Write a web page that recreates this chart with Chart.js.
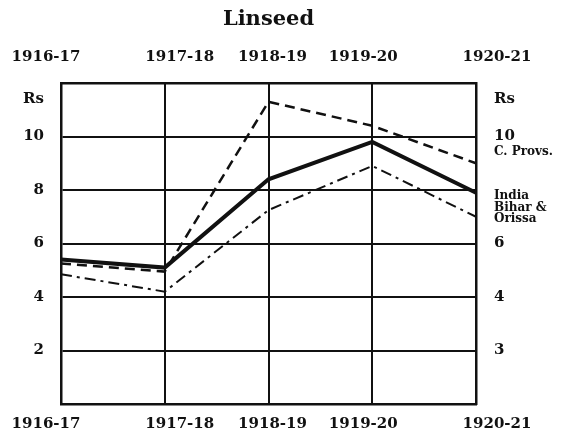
<!DOCTYPE html>
<html lang="en">
<head>
  <meta charset="UTF-8">
  <title>Linseed</title>
  <script src="https://cdn.jsdelivr.net/npm/chart.js"></script>
  <style>
    html, body { margin: 0; padding: 0; background: #fff; }
  </style>
</head>
<body>
  <canvas id="chart" width="571" height="447"></canvas>

  <script>
    // data (Rs)
    const years = ['1916-17', '1917-18', '1918-19', '1919-20', '1920-21'];
    const india = [5.4, 5.1, 8.4, 9.8, 7.9];
    const cProvs = [5.25, 4.95, 11.3, 10.4, 9.0];
    const biharOrissa = [4.85, 4.2, 7.25, 8.9, 7.0];

    const yTicks = [0, 2, 4, 6, 8, 10, 12];
    const leftLabels = ['', '2', '4', '6', '8', '10', 'Rs'];
    const rightLabels = ['', '3', '4', '6', '', '10', 'Rs'];

    const ink = '#111';
    const serif = '"DejaVu Serif", serif';

    // year labels in the print sit a little off the grid lines
    const yearShift = [-15, 15, 4, -9, 21];
    // series names beside the right edge, nudged off the line ends
    const nameNudge = [3, -11, -3];

    Chart.defaults.font.family = serif;
    Chart.defaults.font.weight = 'bold';
    Chart.defaults.font.size = 15;
    Chart.defaults.color = ink;

    function tickText(labels) {
      return v => {
        const t = labels[yTicks.indexOf(v)] || '';
        return t === 'Rs' ? ['', 'Rs'] : t;
      };
    }
    function tickFont(c) {
      if (c.tick && c.tick.value === 12) return { family: serif, weight: 'bold', size: 15, lineHeight: 2.2 };
      return { family: serif, weight: 'bold', size: 15 };
    }

    const overlay = {
      id: 'overlay',
      afterDraw(chart) {
        const { ctx, chartArea, scales } = chart;
        ctx.save();
        ctx.fillStyle = ink;
        ctx.textBaseline = 'middle';

        ctx.textAlign = 'center';
        ctx.font = 'bold 15px ' + serif;
        years.forEach((yr, i) => {
          const x = scales.x.getPixelForValue(i) + yearShift[i];
          ctx.fillText(yr, x, chartArea.top - 26);
          ctx.fillText(yr, x, chartArea.bottom + 20);
        });

        ctx.textAlign = 'left';
        ctx.font = 'bold 12px ' + serif;
        chart.data.datasets.forEach((ds, i) => {
          const pts = chart.getDatasetMeta(i).data;
          const last = pts[pts.length - 1];
          const lines = ds.label.split('\n');
          const y0 = last.y + nameNudge[i] - (lines.length - 1) * 11 / 2;
          lines.forEach((ln, k) => ctx.fillText(ln, chartArea.right + 18, y0 + k * 11));
        });
        ctx.restore();
      }
    };

    new Chart(document.getElementById('chart'), {
      type: 'line',
      data: {
        labels: years,
        datasets: [
          { label: 'India', data: india, borderColor: ink, borderWidth: 4 },
          { label: 'C. Provs.', data: cProvs, borderColor: ink, borderWidth: 2.5, borderDash: [10, 6] },
          { label: 'Bihar &\nOrissa', data: biharOrissa, borderColor: ink, borderWidth: 2, borderDash: [11, 5, 3, 5] }
        ]
      },
      options: {
        responsive: false,
        animation: false,
        elements: { point: { radius: 0 }, line: { tension: 0, borderCapStyle: 'butt' } },
        plugins: {
          legend: { display: false },
          tooltip: { enabled: false },
          title: {
            display: true,
            text: 'Linseed',
            fullSize: false,
            font: { size: 21, weight: 'bold', family: serif },
            padding: { top: 7, bottom: 0 }
          }
        },
        scales: {
          x: {
            type: 'category',
            position: 'bottom',
            offset: false,
            ticks: { display: false },
            grid: { color: ink, lineWidth: 2, drawTicks: false },
            border: { color: ink, width: 2.5 },
            afterFit: s => { s.height = 43; }
          },
          xTop: {
            type: 'category',
            position: 'top',
            offset: false,
            ticks: { display: false },
            grid: { display: false, drawTicks: false },
            border: { color: ink, width: 2.5 },
            afterFit: s => { s.height = 83 - 32.2; }
          },
          y: {
            position: 'left',
            min: 0,
            max: 12,
            afterBuildTicks: s => { s.ticks = yTicks.map(v => ({ value: v })); },
            ticks: { callback: tickText(leftLabels), padding: 17, font: tickFont, autoSkip: false },
            grid: { color: ink, lineWidth: 2, drawTicks: false },
            border: { color: ink, width: 2.5 },
            afterFit: s => { s.width = 61; }
          },
          y2: {
            position: 'right',
            min: 0,
            max: 12,
            afterBuildTicks: s => { s.ticks = yTicks.map(v => ({ value: v })); },
            ticks: { callback: tickText(rightLabels), padding: 18, font: tickFont, autoSkip: false },
            grid: { display: false, drawTicks: false },
            border: { color: ink, width: 2.5 },
            afterFit: s => { s.width = 95; }
          }
        }
      },
      plugins: [overlay]
    });
  </script>
</body>
</html>
